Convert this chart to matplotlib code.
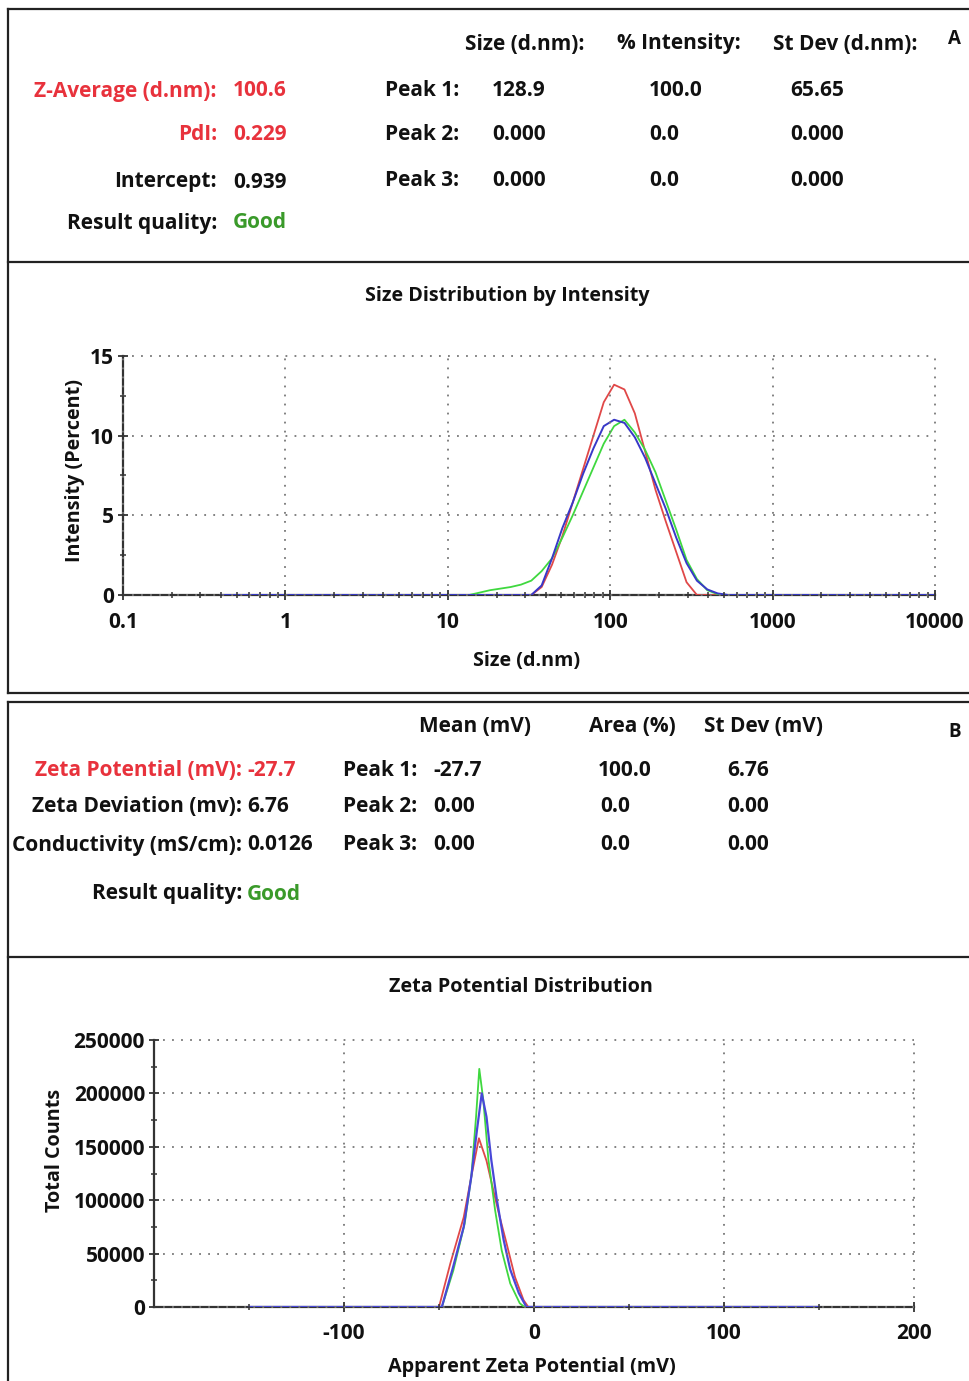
import matplotlib
matplotlib.use("Agg")
import matplotlib.pyplot as plt
from matplotlib.lines import Line2D

matplotlib.rcParams.update({
    "font.family": ["Open Sans", "DejaVu Sans"],
    "font.weight": "bold",
    "font.size": 15,
})

W, H = 970, 1381

# size distribution (panel A), intensity % per size bin
SIZE_NM = [0.4, 10.1, 11.7, 13.54, 15.69, 18.17, 21.04, 24.36, 28.21, 32.67,
           37.84, 43.82, 50.75, 58.77, 68.06, 78.82, 91.28, 105.7, 122.4, 141.8,
           164.2, 190.1, 220.2, 255.0, 295.3, 342.0, 396.1, 458.7, 531.2, 615.1,
           712.4, 10000]
INT_RED = [0, 0, 0, 0, 0, 0, 0, 0, 0, 0,
           0.5, 1.9, 3.7, 5.8, 7.9, 10.0, 12.1, 13.2, 12.9, 11.4,
           9.0, 6.6, 4.6, 2.7, 0.8, 0, 0, 0, 0, 0,
           0, 0]
INT_GREEN = [0, 0, 0, 0, 0.15, 0.3, 0.4, 0.5, 0.65, 0.9,
             1.5, 2.3, 3.6, 5.0, 6.5, 8.0, 9.5, 10.6, 11.0, 10.2,
             9.1, 7.7, 5.9, 4.1, 2.2, 1.0, 0.3, 0.05, 0, 0,
             0, 0]
INT_BLUE = [0, 0, 0, 0, 0, 0, 0, 0, 0, 0,
            0.6, 2.3, 4.2, 5.8, 7.6, 9.2, 10.6, 11.0, 10.8, 9.9,
            8.6, 7.0, 5.4, 3.6, 2.0, 0.9, 0.35, 0.1, 0, 0,
            0, 0]

# zeta potential distribution (panel B)
ZETA_RED = [-50, -44, -37, -33, -29, -25, -21.5, -18, -14.5, -10, -5.5, -3]
COUNTS_RED = [0, 41000, 84000, 122000, 158000, 137000, 110000, 84000, 60000,
              28000, 6500, 0]
ZETA_GREEN = [-48.5, -42.5, -36.5, -33, -30.5, -28.8, -26.7, -24, -20.5, -17,
              -12.5, -7.5, -5]
COUNTS_GREEN = [0, 34000, 78000, 122000, 178000, 223000, 194000, 138000, 91000,
                53000, 22000, 3500, 0]
ZETA_BLUE = [-150, -48.5, -42.5, -37, -33, -30, -27.5, -25, -22.5, -19.5, -16,
             -12.5, -8, -4, 150]
COUNTS_BLUE = [0, 0, 38000, 75000, 122000, 166000, 200000, 178000, 138000,
               100000, 63000, 35000, 13000, 0, 0]

SIZE_TICKS = [0.1, 1, 10, 100, 1000, 10000]
SIZE_TICKLABELS = ["0.1", "1", "10", "100", "1000", "10000"]
INT_TICKS = [0, 5, 10, 15]
ZETA_TICKS = [-100, 0, 100, 200]
COUNT_TICKS = [0, 50000, 100000, 150000, 200000, 250000]

RED_TXT = "#e8323c"
GREEN_TXT = "#3a9a2a"
C_RED = "#e04848"
C_GREEN = "#3fd83f"
C_BLUE = "#3838c8"
AX_COL = "#333333"
GRID_COL = "#777777"
INK = "#111111"

fig = plt.figure(figsize=(W / 100, H / 100), dpi=100)


def fx(x):
    return x / W


def fy(y):
    return 1 - (y + 2) / H


def txt(x, y, s, ha="left", color=INK, size=15):
    fig.text(fx(x), fy(y), s, ha=ha, va="center", color=color, fontsize=size,
             fontweight="bold")


def hline(y, x0, x1):
    fig.add_artist(Line2D([x0 / W, x1 / W], [1 - y / H, 1 - y / H],
                          color="#222222", lw=1.6))


def vline(x, y0, y1):
    fig.add_artist(Line2D([x / W, x / W], [1 - y0 / H, 1 - y1 / H],
                          color="#222222", lw=1.6))


# panel frames
hline(9, 8, 970)
vline(8.5, 9, 693)
hline(693, 8, 970)
hline(262, 8, 970)
hline(702, 8, 970)
vline(8.5, 702, 1381)
hline(957, 8, 970)

# ---- panel A text ----
txt(525, 42, "Size (d.nm):", ha="center")
txt(679, 42, "% Intensity:", ha="center")
txt(845, 42, "St Dev (d.nm):", ha="center")
txt(954, 37, "A", ha="center", size=13.5)

rows_a = [
    (89, "Z-Average (d.nm):", "100.6", RED_TXT, RED_TXT),
    (133, "PdI:", "0.229", RED_TXT, RED_TXT),
    (180, "Intercept:", "0.939", INK, INK),
    (221, "Result quality:", "Good", INK, GREEN_TXT),
]
for y, lab, val, c1, c2 in rows_a:
    txt(217, y, lab, ha="right", color=c1)
    txt(233, y, val, color=c2)

peaks_a = [("Peak 1:", "128.9", "100.0", "65.65"),
           ("Peak 2:", "0.000", "0.0", "0.000"),
           ("Peak 3:", "0.000", "0.0", "0.000")]
for y, (p, s, i, d) in zip([89, 133, 178], peaks_a):
    txt(385, y, p)
    txt(492, y, s)
    txt(649, y, i)
    txt(790, y, d)

# ---- panel B text ----
txt(475, 725, "Mean (mV)", ha="center")
txt(632, 725, "Area (%)", ha="center")
txt(764, 725, "St Dev (mV)", ha="center")
txt(955, 730, "B", ha="center", size=13.5)

rows_b = [
    (768, "Zeta Potential (mV):", "-27.7", RED_TXT, RED_TXT),
    (805, "Zeta Deviation (mv):", "6.76", INK, INK),
    (843, "Conductivity (mS/cm):", "0.0126", INK, INK),
    (892, "Result quality:", "Good", INK, GREEN_TXT),
]
for y, lab, val, c1, c2 in rows_b:
    txt(242, y, lab, ha="right", color=c1)
    txt(247, y, val, color=c2)

peaks_b = [("Peak 1:", "-27.7", "100.0", "6.76"),
           ("Peak 2:", "0.00", "0.0", "0.00"),
           ("Peak 3:", "0.00", "0.0", "0.00")]
for y, (p, m, a, d) in zip([768, 804, 843], peaks_b):
    txt(343, y, p)
    txt(433, y, m)
    txt(598 if a == "100.0" else 600, y, a)
    txt(727, y, d)


def style_axes(ax):
    for side in ("top", "right"):
        ax.spines[side].set_visible(False)
    for side in ("left", "bottom"):
        ax.spines[side].set_color(AX_COL)
        ax.spines[side].set_linewidth(1.6)
    ax.tick_params(which="major", direction="inout", length=7, width=1.3,
                   color=AX_COL, labelsize=15, labelcolor=INK)
    ax.tick_params(which="minor", direction="inout", length=5, width=1.1,
                   color=AX_COL)
    ax.grid(True, which="major", linestyle=(0, (1, 4)), color=GRID_COL, lw=1.3)
    for gl in ax.get_xgridlines() + ax.get_ygridlines():
        gl.set_clip_on(False)
    ax.xaxis.set_zorder(3)
    ax.yaxis.set_zorder(3)


# ---- size distribution plot ----
ax1 = fig.add_axes([123 / W, 1 - 595 / H, (935 - 123) / W, (595 - 356) / H])
ax1.plot(SIZE_NM, INT_RED, color=C_RED, lw=1.3, zorder=2.6)
ax1.plot(SIZE_NM, INT_GREEN, color=C_GREEN, lw=1.3, zorder=2.7)
ax1.plot(SIZE_NM, INT_BLUE, color=C_BLUE, lw=1.4, zorder=2.8)
ax1.set_xscale("log")
ax1.set_xlim(0.1, 10000)
ax1.set_ylim(0, 15)
ax1.set_xticks(SIZE_TICKS, SIZE_TICKLABELS)
ax1.set_xticks([k * 10.0 ** e for e in range(-1, 4) for k in range(2, 10)], minor=True)
ax1.set_yticks(INT_TICKS, [str(t) for t in INT_TICKS])
ax1.set_yticks([2.5, 7.5, 12.5], minor=True)
ax1.xaxis.set_minor_formatter(plt.NullFormatter())
style_axes(ax1)
ax1.tick_params(axis="x", which="major", pad=9)
ax1.tick_params(axis="y", which="major", pad=3)

txt(507, 294, "Size Distribution by Intensity", ha="center", size=14.2)
fig.text(fx(75), fy(468), "Intensity (Percent)", rotation=90, ha="center",
         va="center", fontsize=14.2, fontweight="bold", color=INK)
txt(527, 659, "Size (d.nm)", ha="center", size=14.2)

# ---- zeta potential plot ----
ax2 = fig.add_axes([154 / W, 1 - 1307 / H, (914 - 154) / W, (1307 - 1040) / H])
ax2.plot(ZETA_RED, COUNTS_RED, color=C_RED, lw=1.3, zorder=2.6)
ax2.plot(ZETA_GREEN, COUNTS_GREEN, color=C_GREEN, lw=1.3, zorder=2.7)
ax2.plot(ZETA_BLUE, COUNTS_BLUE, color="#4848d8", lw=1.6, zorder=2.8)
ax2.set_xlim(-200, 200)
ax2.set_ylim(0, 250000)
ax2.set_xticks(ZETA_TICKS, [str(t) for t in ZETA_TICKS])
ax2.set_xticks([-150, -50, 50, 150], minor=True)
ax2.set_yticks(COUNT_TICKS, [str(t) for t in COUNT_TICKS])
ax2.set_yticks([25000, 75000, 125000, 175000, 225000], minor=True)
style_axes(ax2)
ax2.tick_params(axis="x", which="major", pad=8)
ax2.tick_params(axis="y", which="major", pad=3)

txt(521, 985, "Zeta Potential Distribution", ha="center", size=14.2)
fig.text(fx(55), fy(1148), "Total Counts", rotation=90, ha="center",
         va="center", fontsize=14.2, fontweight="bold", color=INK)
txt(532, 1365, "Apparent Zeta Potential (mV)", ha="center", size=14.2)

fig.savefig("out.png", dpi=100)
